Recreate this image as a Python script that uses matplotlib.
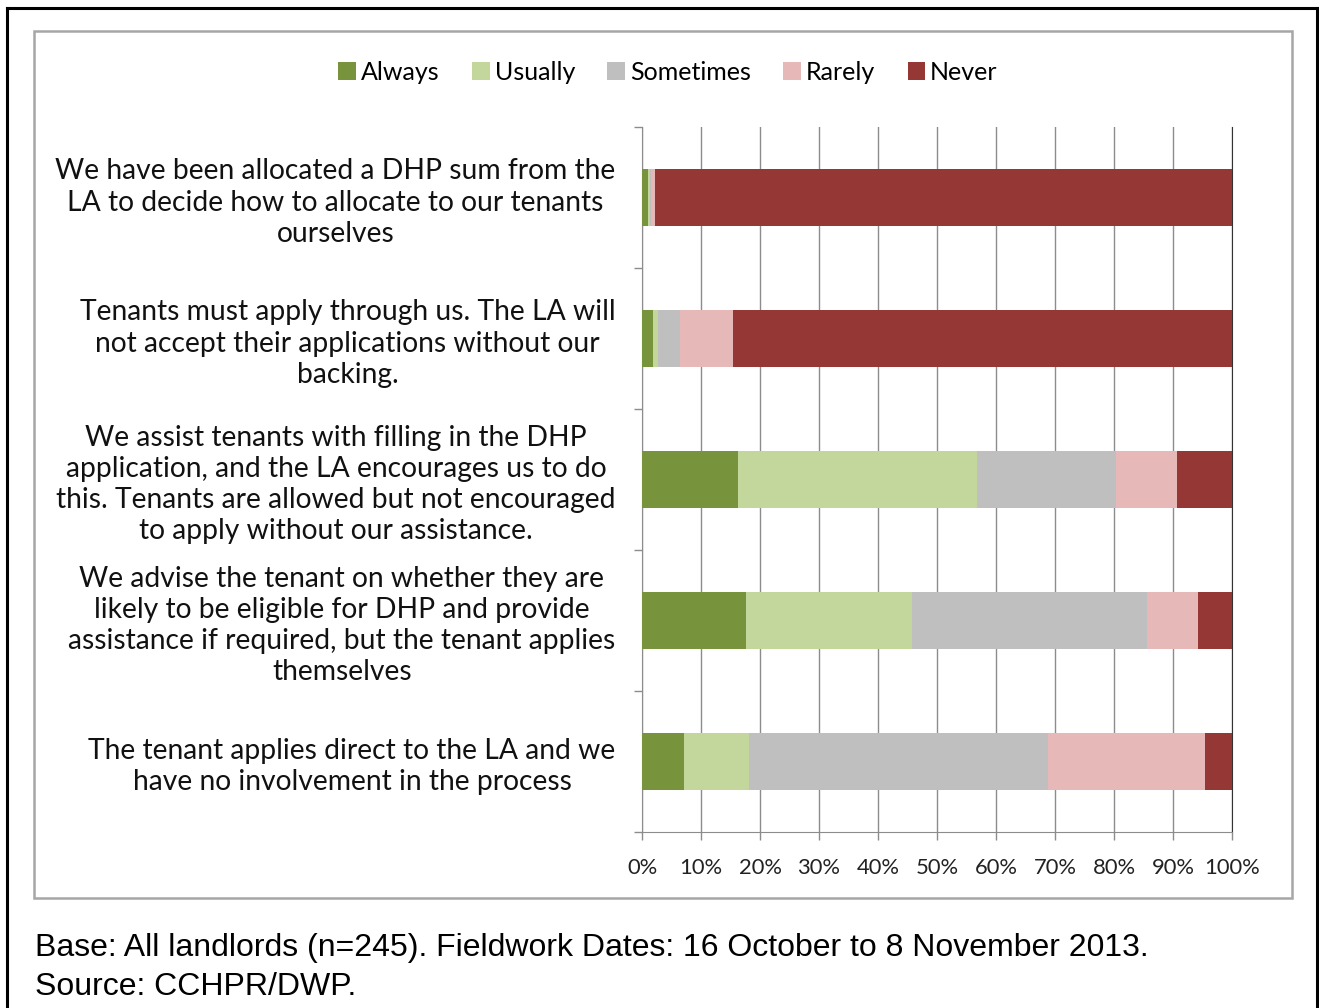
import numpy as np
import matplotlib
matplotlib.use("Agg")
import matplotlib.pyplot as plt
from matplotlib.lines import Line2D
from matplotlib.patches import Rectangle

# Statements (top to bottom) and share of landlords per answer (%)
statements = [
    "We have been allocated a DHP sum from the\nLA to decide how to allocate to our tenants\nourselves",
    "Tenants must apply through us. The LA will\nnot accept their applications without our\nbacking.",
    "We assist tenants with filling in the DHP\napplication, and the LA encourages us to do\nthis. Tenants are allowed but not encouraged\nto apply without our assistance.",
    "We advise the tenant on whether they are\nlikely to be eligible for DHP and provide\nassistance if required, but the tenant applies\nthemselves",
    "The tenant applies direct to the LA and we\nhave no involvement in the process",
]
answers = ["Always", "Usually", "Sometimes", "Rarely", "Never"]
always = [1.0, 1.8, 16.3, 17.7, 7.1]
usually = [0.4, 0.9, 40.4, 28.1, 11.0]
sometimes = [0.2, 3.7, 23.6, 39.8, 50.7]
rarely = [0.6, 9.0, 10.3, 8.6, 26.6]
never = [97.8, 84.6, 9.4, 5.8, 4.6]
colors = ["#77933C", "#C3D69B", "#BFBFBF", "#E6B9B8", "#953735"]

W, H = 1319, 1008
fig = plt.figure(figsize=(W / 100, H / 100), dpi=100)
plt.rcParams['font.family'] = ['Lato', 'DejaVu Sans']

# outer black border and grey chart frame
fig.add_artist(Line2D([7 / W, 1317 / W], [1 - 8 / H, 1 - 8 / H], color="black", lw=2.2))
fig.add_artist(Line2D([7 / W, 7 / W], [0, 1 - 8 / H], color="black", lw=2.2))
fig.add_artist(Line2D([1317 / W, 1317 / W], [0, 1 - 8 / H], color="black", lw=2.2))
fig.add_artist(Rectangle((34 / W, 1 - 898 / H), 1258 / W, 867 / H, fill=False,
                         edgecolor="#a6a6a6", lw=1.8))

ax = fig.add_axes([642 / W, 1 - 832 / H, 590 / W, 705 / H])
y = np.arange(len(statements))
left = np.zeros(len(statements))
for name, vals, c in zip(answers, [always, usually, sometimes, rarely, never], colors):
    ax.barh(y, vals, left=left, height=0.4, color=c, label=name, zorder=3)
    left += np.array(vals)

ax.set_xlim(0, 100)
ax.set_ylim(len(statements) - 0.5, -0.5)
ax.set_xticks(np.arange(0, 101, 10))
ax.set_xticklabels([f"{v}%" for v in range(0, 101, 10)], fontsize=15.8, color="#222222")
ax.grid(axis="x", color="#8c8c8c", lw=1, zorder=0)
ax.tick_params(axis="x", length=6, width=1, color="#8c8c8c", pad=13)

ax.set_yticks(y)
ax.set_yticklabels(statements, fontsize=20.3, multialignment="center", color="#111111",
                   linespacing=1.24)
ax.set_yticks(np.arange(-0.5, len(statements), 1), minor=True)
ax.tick_params(axis="y", which="major", length=0, pad=19)
ax.tick_params(axis="y", which="minor", length=6, width=1, color="#8c8c8c")

ax.spines["top"].set_visible(False)
ax.spines["left"].set_color("#8c8c8c")
ax.spines["bottom"].set_color("#8c8c8c")
ax.spines["right"].set_color("#333333")

fig.legend(loc="center", bbox_to_anchor=(668 / W, 1 - 72 / H), ncol=5, frameon=False,
           fontsize=18, handlelength=0.7, handleheight=0.7, handletextpad=0.2,
           columnspacing=1.3)

fig.text(35 / W, 1 - 948 / H, "Base: All landlords (n=245). Fieldwork Dates: 16 October to 8 November 2013.",
         fontsize=23, family="Liberation Sans", va="center", ha="left")
fig.text(35 / W, 1 - 987 / H, "Source: CCHPR/DWP.",
         fontsize=23, family="Liberation Sans", va="center", ha="left")

fig.savefig("out.png", dpi=100)
